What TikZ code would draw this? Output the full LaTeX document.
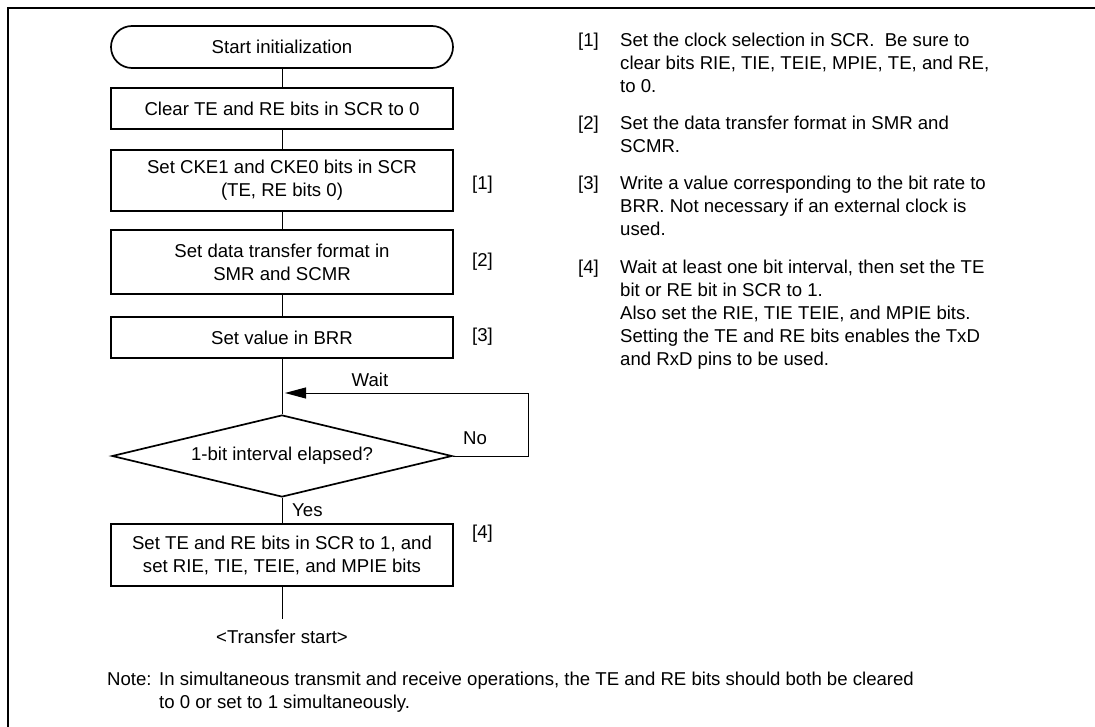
\documentclass[tikz,border=0pt]{standalone}
\usepackage{fontspec}
\setmainfont{Liberation Sans}
\usetikzlibrary{shapes.geometric,arrows.meta}
\begin{document}
\begin{tikzpicture}[x=1pt,y=-1pt,
  every node/.style={font=\fontsize{18.6}{23}\selectfont, inner sep=0pt, text=black},
  proc/.style={draw, line width=1.7pt, minimum width=342pt, align=center},
  termbox/.style={draw, line width=1.7pt, rounded corners=21pt, minimum width=342pt, minimum height=42pt},
  dec/.style={draw, diamond, shape aspect=4.146, line width=1.7pt, minimum width=340pt, minimum height=82pt},
  conn/.style={line width=1pt},
  lbl/.style={anchor=west},
  txt/.style={anchor=north west, align=left},
]
\useasboundingbox (0,0) rectangle (1095,727);
\draw[line width=2pt] (1095,8.5) -- (7.5,8.5) -- (7.5,727);

% flowchart
\node[termbox] (start) at (282,47) {Start initialization};
\node[proc, minimum height=41pt] (b1) at (282,108.5) {Clear TE and RE bits in SCR to 0};
\node[proc, minimum height=61pt] (b2) at (282,180.5) {Set CKE1 and CKE0 bits in SCR\\(TE, RE bits 0)};
\node[proc, minimum height=64pt] (b3) at (282,262) {Set data transfer format in\\SMR and SCMR};
\node[proc, minimum height=41pt] (b4) at (282,337.5) {Set value in BRR};
\node[dec] (d) at (282,456) {1-bit interval elapsed?};
\node[proc, minimum height=62pt] (b5) at (282,555) {Set TE and RE bits in SCR to 1, and\\set RIE, TIE, TEIE, and MPIE bits};
\coordinate (endp) at (282,619);
\node (ts) at (282,637) {<Transfer start>};
\coordinate (loopr) at (528,393);
\coordinate (waitend) at (285,393);

\draw[conn] (start.south) -- (b1.north);
\draw[conn] (b1.south) -- (b2.north);
\draw[conn] (b2.south) -- (b3.north);
\draw[conn] (b3.south) -- (b4.north);
\draw[conn] (b4.south) -- (d.north);
\draw[conn] (d.south) -- (b5.north);
\draw[conn] (b5.south) -- (endp);
\draw[conn, -{Triangle[length=21pt,width=11pt]}] (d.east) -| (loopr) -- (waitend);

\node (wait) at (370,380) {Wait};
\node (no) at (475,438) {No};
\node[lbl] (yes) at (292,510) {Yes};

\node[lbl] (r1) at (472,185) {[1]};
\node[lbl] (r2) at (472,262) {[2]};
\node[lbl] (r3) at (472,337) {[3]};
\node[lbl] (r4) at (472,534) {[4]};

% notes on the right
\node[txt] (n1) at (578,30.6) {\strut[1]};
\node[txt] (t1) at (620,30.6) {\strut Set the clock selection in SCR.\ \ Be sure to\\\strut clear bits RIE, TIE, TEIE, MPIE, TE, and RE,\\\strut to 0.};
\node[txt] (n2) at (578,113.3) {\strut[2]};
\node[txt] (t2) at (620,113.3) {\strut Set the data transfer format in SMR and\\\strut SCMR.};
\node[txt] (n3) at (578,173.3) {\strut[3]};
\node[txt] (t3) at (620,173.3) {\strut Write a value corresponding to the bit rate to\\\strut BRR. Not necessary if an external clock is\\\strut used.};
\node[txt] (n4) at (578,257.3) {\strut[4]};
\node[txt] (t4) at (620,257.3) {\strut Wait at least one bit interval, then set the TE\\\strut bit or RE bit in SCR to 1.\\\strut Also set the RIE, TIE TEIE, and MPIE bits.\\\strut Setting the TE and RE bits enables the TxD\\\strut and RxD pins to be used.};

% bottom note
\node[txt] (notel) at (107,669) {\strut Note:};
\node[txt] (notet) at (159,669) {\strut In simultaneous transmit and receive operations, the TE and RE bits should both be cleared\\\strut to 0 or set to 1 simultaneously.};
\end{tikzpicture}
\end{document}
